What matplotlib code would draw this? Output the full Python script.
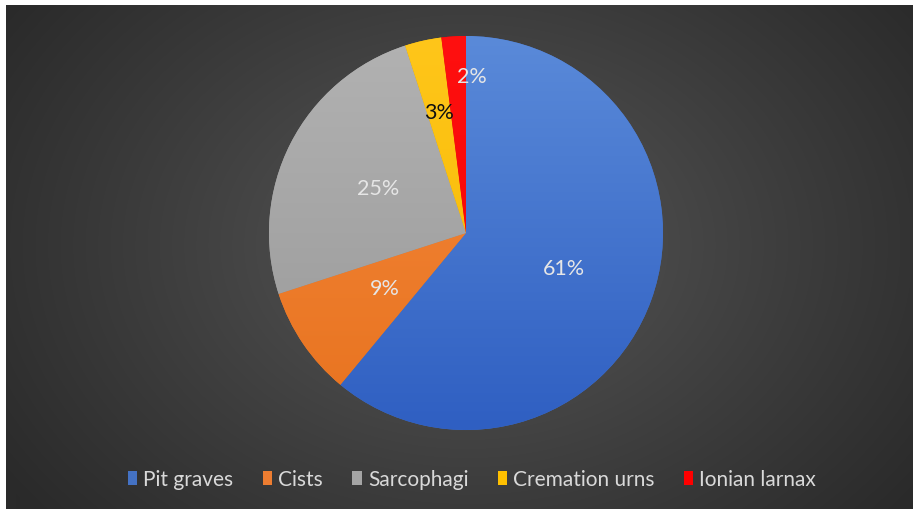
import numpy as np
import matplotlib.pyplot as plt
from matplotlib.colors import to_rgb
from matplotlib.patches import Patch

plt.rcParams['font.family'] = ['Lato', 'DejaVu Sans']

# data
categories = ["Pit graves", "Cists", "Sarcophagi", "Cremation urns", "Ionian larnax"]
shares = [61, 9, 25, 3, 2]
pct_labels = ["61%", "9%", "25%", "3%", "2%"]

# styling
colors = ["#4472c4", "#ed7d31", "#a5a5a5", "#ffc000", "#ff0000"]
grad_top = ["#5a8ad9", "#f4883c", "#b2b2b2", "#ffc61a", "#ff1010"]
grad_bot = ["#2f5fc2", "#e8731f", "#989898", "#f5b800", "#f00000"]
label_dist = [0.53, 0.50, 0.50, 0.63, 0.80]
label_dx = [0, 0, 0, 0, 0.08]
label_colors = ["#e6e6e6", "#e6e6e6", "#e6e6e6", "#111111", "#e6e6e6"]

W, H = 913, 510
fig = plt.figure(figsize=(W / 100, H / 100), dpi=100)
fig.patch.set_facecolor("white")

# radial background
bg = fig.add_axes([6 / W, 0, 1 - 6 / W, 1 - 6 / H])
bg.set_axis_off()
yy, xx = np.mgrid[0:504, 0:907]
cx, cy = 461, 240
d = np.sqrt(((xx - cx) / 560.0) ** 2 + ((yy - cy) / 420.0) ** 2)
d = np.clip(d, 0, 1)
lo, hi = 0x2a / 255, 0x5a / 255
v = hi - (hi - lo) * d ** 0.9
img = np.dstack([v, v, v])
bg.imshow(img, aspect="auto", extent=[0, 1, 0, 1], interpolation="bilinear")
bg.set_xlim(0, 1)
bg.set_ylim(0, 1)

# pie axes
r = 197
pcx, pcy = 466, 234
ax = fig.add_axes([(pcx - r) / W, 1 - (pcy + r) / H, 2 * r / W, 2 * r / H])
ax.set_axis_off()
wedges, _ = ax.pie(shares, colors=colors, startangle=90, counterclock=False,
                   radius=1, wedgeprops=dict(linewidth=0))

for i, w in enumerate(wedges):
    # vertical gradient clipped to the wedge
    g = np.linspace(0, 1, 256)[:, None, None]
    c1 = np.array(to_rgb(grad_top[i]))[None, None, :]
    c2 = np.array(to_rgb(grad_bot[i]))[None, None, :]
    grad = np.repeat(c1 * (1 - g) + c2 * g, 2, axis=1)
    im = ax.imshow(grad, extent=[-1, 1, -1, 1], aspect="auto", zorder=2)
    im.set_clip_path(w)
    mid = np.deg2rad((w.theta1 + w.theta2) / 2)
    ax.text(label_dist[i] * np.cos(mid) + label_dx[i], label_dist[i] * np.sin(mid),
            pct_labels[i], ha="center", va="center", fontsize=15.5,
            color=label_colors[i], zorder=5)
ax.set_xlim(-1, 1)
ax.set_ylim(-1, 1)

handles = [Patch(facecolor=c, edgecolor="none") for c in colors]
fig.legend(handles, categories, loc="center", ncol=5,
           bbox_to_anchor=(472 / W, 1 - 480 / H), frameon=False,
           fontsize=15, labelcolor="#d9d9d9", handlelength=0.45,
           handleheight=0.65, handletextpad=0.3, columnspacing=1.4)

fig.savefig("out.png", dpi=100, facecolor=fig.get_facecolor())
